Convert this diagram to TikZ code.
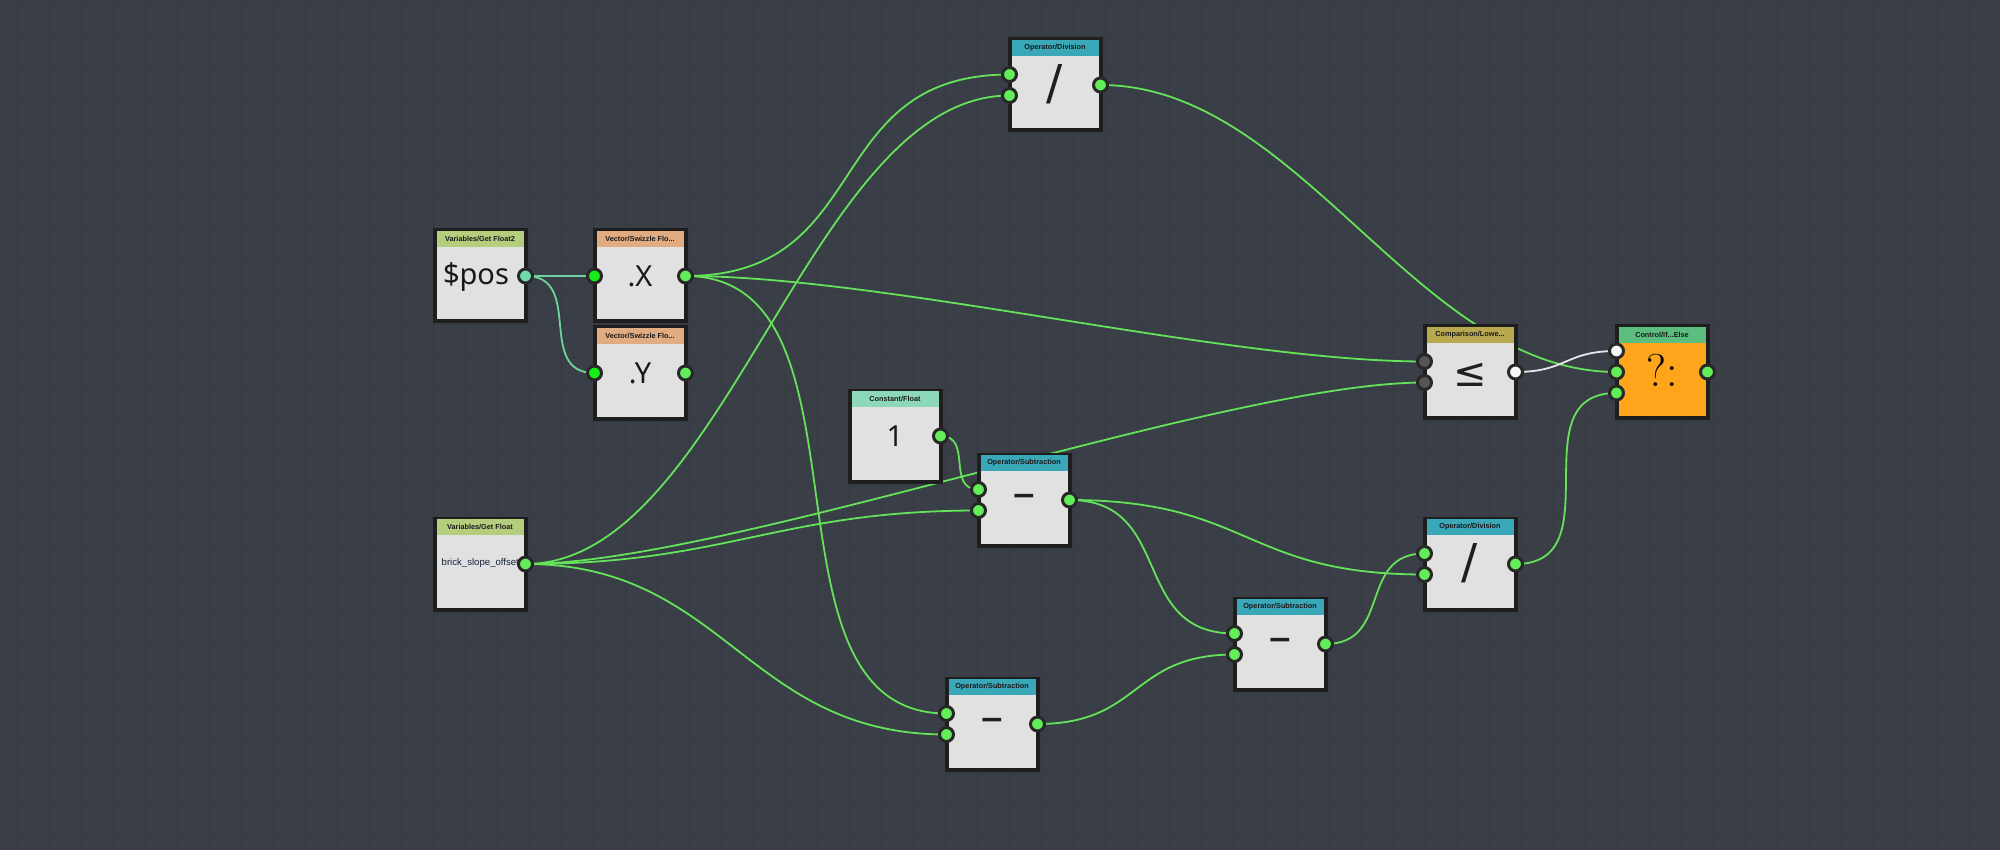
\documentclass[tikz,border=0pt]{standalone}
\usepackage{fontspec}
\usepackage{tikz}
\newfontfamily\headfont{Liberation Sans}
\newfontfamily\symbfont{Noto Sans}
\newfontfamily\opfont{DejaVu Sans}
\definecolor{bggrey}{RGB}{58,63,71}
\definecolor{gridgrey}{RGB}{53,58,65}
\definecolor{nodebody}{RGB}{225,225,225}
\definecolor{nodeline}{RGB}{30,30,30}
\definecolor{varhead}{RGB}{180,206,126}
\definecolor{vechead}{RGB}{226,172,130}
\definecolor{consthead}{RGB}{142,216,186}
\definecolor{ophead}{RGB}{58,168,184}
\definecolor{cmphead}{RGB}{184,168,80}
\definecolor{ctrlhead}{RGB}{92,190,126}
\definecolor{ifbody}{RGB}{255,165,28}
\definecolor{porting}{RGB}{40,40,40}
\definecolor{portgreen}{RGB}{98,238,88}
\definecolor{portlime}{RGB}{22,236,22}
\definecolor{portteal}{RGB}{110,220,170}
\definecolor{portgrey}{RGB}{85,85,85}
\definecolor{portwhite}{RGB}{248,248,248}
\definecolor{wiregreen}{RGB}{100,226,90}
\definecolor{wireteal}{RGB}{110,210,160}
\definecolor{wirewhite}{RGB}{232,232,232}
\definecolor{bricktext}{RGB}{20,33,61}
\usetikzlibrary{calc}
\pgfdeclarelayer{bg}
\pgfdeclarelayer{wires}
\pgfsetlayers{bg,wires,main}

\begin{document}
\begin{tikzpicture}[
  x=1pt, y=-1pt,
  gbox/.style={draw=nodeline, line width=4pt, fill=nodebody, minimum size=91pt, inner sep=0pt},
  ghead/.style={anchor=north, minimum width=87pt, minimum height=16pt, inner sep=0pt,
    font=\headfont\bfseries\fontsize{7.3}{8}\selectfont, text=black!90},
  gsym/.style={inner sep=0pt, font=\symbfont\fontsize{29}{30}\selectfont, text=black!90},
  opsym/.style={inner sep=0pt, font=\opfont\fontsize{48}{50}\selectfont, text=black!88},
  minussym/.style={inner sep=0pt, font=\opfont\bfseries\fontsize{30}{32}\selectfont, text=black!88},
  port/.style={circle, draw=porting, line width=3pt, minimum size=14pt, inner sep=0pt, fill=portgreen},
  gridline/.style={draw=gridgrey, line width=1pt},
  wire/.style={draw=wiregreen, line width=1.8pt,
    to path={let \p1=(\tikztostart), \p2=(\tikztotarget),
      \n1={min(200,0.5*veclen(\x2-\x1,\y2-\y1))} in
      .. controls ($(\tikztostart)+(\n1,0)$) and ($(\tikztotarget)+(-\n1,0)$) .. (\tikztotarget)}},
]
  \useasboundingbox (0,0) rectangle (2000,850);
  \begin{pgfonlayer}{bg}
    \fill[bggrey] (0,0) rectangle (2000,850);
    \foreach \gx in {17,49,...,1997} \draw[gridline] (\gx,0) -- (\gx,850);
    \foreach \gy in {5,37,...,837} \draw[gridline] (0,\gy) -- (2000,\gy);
  \end{pgfonlayer}

  % variables
  \node[gbox] (pos) at (480,276) {};
  \node[ghead, fill=varhead] (pos-h) at ($(pos.north)+(0,2)$) {Variables/Get Float2};
  \node[gsym] (pos-s) at ($(pos)+(-4,1)$) {\$pos};
  \node[port, fill=portteal] (pos-o) at ($(pos.east)+(-2,0)$) {};

  \node[gbox] (brick) at (480,564) {};
  \node[ghead, fill=varhead] (brick-h) at ($(brick.north)+(0,2)$) {Variables/Get Float};
  \node[anchor=west, inner sep=0pt, font=\headfont\fontsize{9.6}{10}\selectfont, text=bricktext]
    (brick-s) at ($(brick.west)+(9,-1)$) {brick\_slope\_offset};
  \node[port] (brick-o) at ($(brick.east)+(-2,0)$) {};

  % swizzles
  \node[gbox] (swx) at (640,276) {};
  \node[ghead, fill=vechead] (swx-h) at ($(swx.north)+(0,2)$) {Vector/Swizzle Flo...};
  \node[gsym] (swx-s) at (swx) {.X};
  \node[port, fill=portlime] (swx-i) at ($(swx.west)+(2,0)$) {};
  \node[port] (swx-o) at ($(swx.east)+(-2,0)$) {};

  \node[gbox] (swy) at (640,373) {};
  \node[ghead, fill=vechead] (swy-h) at ($(swy.north)+(0,2)$) {Vector/Swizzle Flo...};
  \node[gsym] (swy-s) at (swy) {.Y};
  \node[port, fill=portlime] (swy-i) at ($(swy.west)+(2,0)$) {};
  \node[port] (swy-o) at ($(swy.east)+(-2,0)$) {};

  % constant
  \node[gbox] (const) at (895,436) {};
  \node[ghead, fill=consthead] (const-h) at ($(const.north)+(0,2)$) {Constant/Float};
  \node[gsym] (const-s) at (const) {1};
  \node[port] (const-o) at ($(const.east)+(-2,0)$) {};

  % operators
  \node[gbox] (div1) at (1055,85) {};
  \node[ghead, fill=ophead] (div1-h) at ($(div1.north)+(0,2)$) {Operator/Division};
  \node[opsym] (div1-s) at ($(div1)+(0,-1)$) {/};
  \node[port] (div1-a) at ($(div1.west)+(2,-10.5)$) {};
  \node[port] (div1-b) at ($(div1.west)+(2,10.5)$) {};
  \node[port] (div1-o) at ($(div1.east)+(-2,0)$) {};

  \node[gbox] (sub1) at (1024,500) {};
  \node[ghead, fill=ophead] (sub1-h) at ($(sub1.north)+(0,2)$) {Operator/Subtraction};
  \node[minussym] (sub1-s) at (sub1) {−};
  \node[port] (sub1-a) at ($(sub1.west)+(2,-10.5)$) {};
  \node[port] (sub1-b) at ($(sub1.west)+(2,10.5)$) {};
  \node[port] (sub1-o) at ($(sub1.east)+(-2,0)$) {};

  \node[gbox] (sub2) at (992,724) {};
  \node[ghead, fill=ophead] (sub2-h) at ($(sub2.north)+(0,2)$) {Operator/Subtraction};
  \node[minussym] (sub2-s) at (sub2) {−};
  \node[port] (sub2-a) at ($(sub2.west)+(2,-10.5)$) {};
  \node[port] (sub2-b) at ($(sub2.west)+(2,10.5)$) {};
  \node[port] (sub2-o) at ($(sub2.east)+(-2,0)$) {};

  \node[gbox] (sub3) at (1280,644) {};
  \node[ghead, fill=ophead] (sub3-h) at ($(sub3.north)+(0,2)$) {Operator/Subtraction};
  \node[minussym] (sub3-s) at (sub3) {−};
  \node[port] (sub3-a) at ($(sub3.west)+(2,-10.5)$) {};
  \node[port] (sub3-b) at ($(sub3.west)+(2,10.5)$) {};
  \node[port] (sub3-o) at ($(sub3.east)+(-2,0)$) {};

  \node[gbox] (div2) at (1470,564) {};
  \node[ghead, fill=ophead] (div2-h) at ($(div2.north)+(0,2)$) {Operator/Division};
  \node[opsym] (div2-s) at ($(div2)+(0,-1)$) {/};
  \node[port] (div2-a) at ($(div2.west)+(2,-10.5)$) {};
  \node[port] (div2-b) at ($(div2.west)+(2,10.5)$) {};
  \node[port] (div2-o) at ($(div2.east)+(-2,0)$) {};

  % comparison and branch
  \node[gbox] (cmp) at (1470,372) {};
  \node[ghead, fill=cmphead] (cmp-h) at ($(cmp.north)+(0,2)$) {Comparison/Lowe...};
  \node[opsym, font=\opfont\fontsize{40}{42}\selectfont] (cmp-s) at ($(cmp)+(0,3)$) {≤};
  \node[port, fill=portgrey] (cmp-a) at ($(cmp.west)+(2,-10.5)$) {};
  \node[port, fill=portgrey] (cmp-b) at ($(cmp.west)+(2,10.5)$) {};
  \node[port, fill=portwhite] (cmp-o) at ($(cmp.east)+(-2,0)$) {};

  \node[gbox, fill=ifbody] (ifel) at (1662,372) {};
  \node[ghead, fill=ctrlhead] (ifel-h) at ($(ifel.north)+(0,2)$) {Control/If...Else};
  \node[inner sep=0pt, font=\fontsize{46}{48}\selectfont] (ifel-s) at ($(ifel)+(0,-2)$) {?:};
  \node[port, fill=portwhite] (ifel-a) at ($(ifel.west)+(2,-21)$) {};
  \node[port] (ifel-b) at ($(ifel.west)+(2,0)$) {};
  \node[port] (ifel-c) at ($(ifel.west)+(2,21)$) {};
  \node[port] (ifel-o) at ($(ifel.east)+(-2,0)$) {};

  % connections
  \begin{pgfonlayer}{wires}
    \draw[wire, draw=wireteal] (pos-o.center) to (swx-i.center);
    \draw[wire, draw=wireteal] (pos-o.center) to (swy-i.center);
    \draw[wire] (swx-o.center) to (div1-a.center);
    \draw[wire] (swx-o.center) to (cmp-a.center);
    \draw[wire] (swx-o.center) to (sub2-a.center);
    \draw[wire] (brick-o.center) to (div1-b.center);
    \draw[wire] (brick-o.center) to (cmp-b.center);
    \draw[wire] (brick-o.center) to (sub1-b.center);
    \draw[wire] (brick-o.center) to (sub2-b.center);
    \draw[wire] (const-o.center) to (sub1-a.center);
    \draw[wire] (sub1-o.center) to (sub3-a.center);
    \draw[wire] (sub1-o.center) to (div2-b.center);
    \draw[wire] (sub2-o.center) to (sub3-b.center);
    \draw[wire] (sub3-o.center) to (div2-a.center);
    \draw[wire] (div2-o.center) to (ifel-c.center);
    \draw[wire] (div1-o.center) to (ifel-b.center);
    \draw[wire, draw=wirewhite] (cmp-o.center) to (ifel-a.center);
  \end{pgfonlayer}
\end{tikzpicture}
\end{document}
